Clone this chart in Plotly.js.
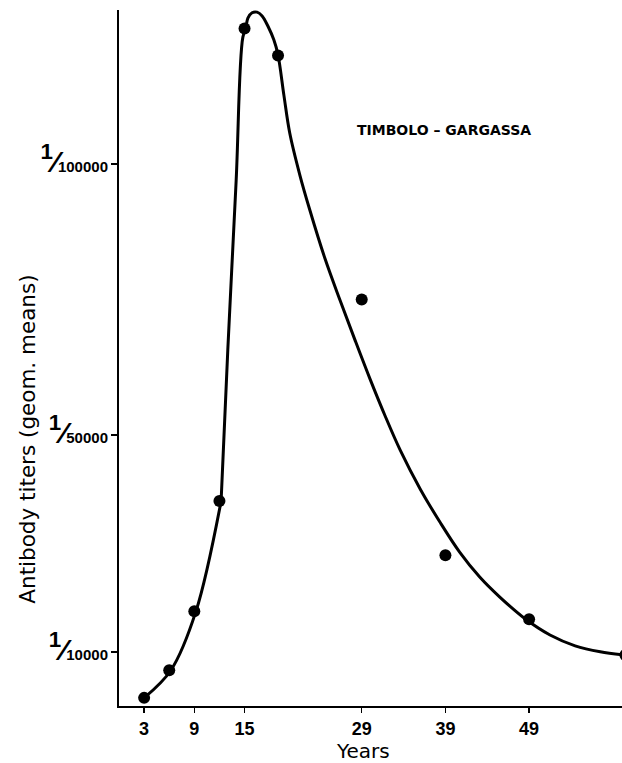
<!DOCTYPE html>
<html>
<head>
<meta charset="utf-8">
<script src="https://cdn.plot.ly/plotly-3.0.1.min.js"></script>
<style>
  html, body { margin: 0; padding: 0; background: #ffffff; }
  #chart { width: 622px; height: 763px; }
</style>
</head>
<body>
<div id="chart"></div>
<script>
// Measured points (years, reciprocal geometric-mean titer)
const pointYears = [3, 6, 9, 12, 15, 19, 29, 39, 49, 60.5];
const pointTiters = [1500, 6600, 17500, 37800, 125000, 120000, 75000, 27800, 16000, 9400];

// Hand-drawn fitted curve, in three pieces
const lowerYears = [3.0, 6.2, 9.2, 12.2];
const lowerTiters = [1500, 6600, 17500, 37800];

const risingYears = [12.2, 13.0, 14.0, 14.8, 15.2];
const risingTiters = [37800, 65700, 97000, 123400, 125100];

const fallingYears = [15.2, 15.4, 15.9, 16.5, 17.1, 17.8, 18.5, 19.0, 19.7, 20.4, 21.6, 22.8, 24.6, 26.4, 28.2, 30.0, 31.8, 33.6, 36.0, 38.4, 40.7, 43.1, 45.5, 48.6, 51.5, 54.5, 57.5, 60.5];
const fallingTiters = [125100, 126900, 127900, 128000, 127300, 125400, 122900, 120100, 112700, 105700, 98000, 91500, 82600, 74900, 67500, 60300, 53500, 47200, 40000, 33800, 28400, 23800, 20100, 16000, 13100, 11100, 10000, 9400];

// Axis ticks
const xTickVals = [3, 9, 15, 29, 39, 49];
const yTickVals = [10000, 50000, 100000];
const yTickDenoms = ['10000', '50000', '100000'];

const labelText = 'TIMBOLO – GARGASSA';
const xTitle = 'Years';
const yTitle = 'Antibody titers (geom. means)';

const yTickText = yTickDenoms.map(d =>
  "<span style='font-size:32px'><sup>1</sup></span><span style='font-size:30px'>\u2044</span>" + d);

const boldSans = 'Liberation Sans, Arial, sans-serif';

const curveLine = { color: '#000000', width: 3, shape: 'spline', smoothing: 1 };

const traces = [
  { x: lowerYears, y: lowerTiters, type: 'scatter', mode: 'lines', line: curveLine, hoverinfo: 'skip', showlegend: false },
  { x: risingYears, y: risingTiters, type: 'scatter', mode: 'lines', line: curveLine, hoverinfo: 'skip', showlegend: false },
  { x: fallingYears, y: fallingTiters, type: 'scatter', mode: 'lines', line: curveLine, hoverinfo: 'skip', showlegend: false },
  {
    x: pointYears, y: pointTiters,
    type: 'scatter', mode: 'markers',
    marker: { color: '#000000', size: 12 },
    cliponaxis: true,
    showlegend: false
  }
];

const layout = {
  width: 622, height: 763,
  margin: { l: 119, r: 0, t: 10, b: 57, pad: 0 },
  paper_bgcolor: '#ffffff', plot_bgcolor: '#ffffff',
  showlegend: false,
  xaxis: {
    range: [0, 60.1],
    showgrid: false, zeroline: false,
    showline: true, linecolor: '#000000', linewidth: 2,
    ticks: 'outside', ticklen: 5, tickwidth: 1.5, tickcolor: '#000000',
    tickvals: xTickVals,
    tickfont: { family: boldSans, size: 18, color: '#000000', weight: 'bold' },
    automargin: false, fixedrange: true
  },
  yaxis: {
    range: [0, 128400],
    showgrid: false, zeroline: false,
    showline: true, linecolor: '#000000', linewidth: 2,
    ticks: 'outside', ticklen: 6, tickwidth: 1.5, tickcolor: '#000000',
    tickvals: yTickVals, ticktext: yTickText,
    ticklabelshift: 3,
    tickfont: { family: boldSans, size: 15, color: '#000000', weight: 'bold' },
    automargin: false, fixedrange: true
  },
  annotations: [
    {
      text: labelText, xref: 'paper', yref: 'paper',
      x: 0.646, y: 0.828, xanchor: 'center', yanchor: 'middle', showarrow: false,
      font: { family: 'DejaVu Sans, sans-serif', size: 14, color: '#000000', weight: 'bold' }
    },
    {
      text: xTitle, xref: 'paper', yref: 'paper',
      x: 0.485, y: -0.065, xanchor: 'center', yanchor: 'middle', showarrow: false,
      font: { family: 'DejaVu Sans, sans-serif', size: 20, color: '#000000' }
    },
    {
      text: yTitle, xref: 'paper', yref: 'paper', textangle: -90,
      x: -0.181, y: 0.384, xanchor: 'center', yanchor: 'middle', showarrow: false,
      font: { family: 'DejaVu Sans, sans-serif', size: 21.5, color: '#000000' }
    }
  ]
};

Plotly.newPlot('chart', traces, layout, { displayModeBar: false, staticPlot: true });
</script>
</body>
</html>
